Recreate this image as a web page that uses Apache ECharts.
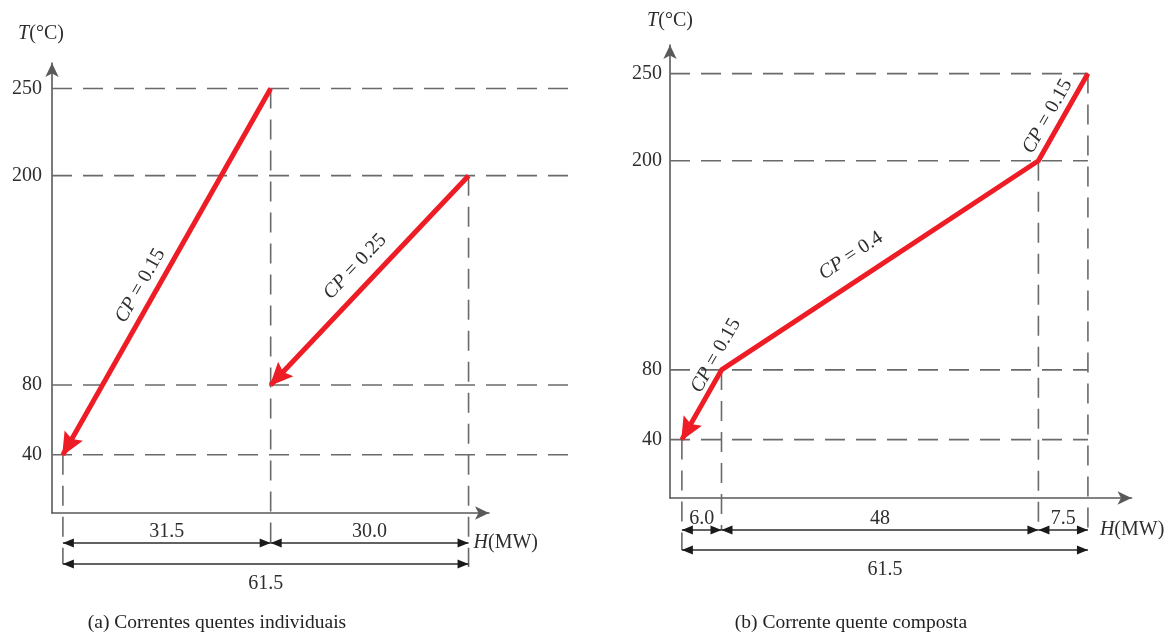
<!DOCTYPE html>
<html><head><meta charset="utf-8">
<script src="https://cdn.jsdelivr.net/npm/echarts@6/dist/echarts.min.js"></script>
<style>html,body{margin:0;padding:0;background:#fff}#c{width:1176px;height:635px}</style>
</head><body><div id="c"></div>
<script>
// ---------------- data ----------------
const yTicks = [40, 80, 200, 250];                 // T (°C) tick labels
// Panel (a): individual hot streams, points [H (MW), T (°C)] from start to end
const stream1 = [[31.5, 250], [0, 40]];
const stream2 = [[61.5, 200], [31.5, 80]];
const streamLabels = ['CP = 0.15', 'CP = 0.25'];
// Panel (b): composite hot stream
const compositeH = [61.5, 54, 6, 0];
const compositeT = [250, 200, 80, 40];
const compositeLabels = ['CP = 0.15', 'CP = 0.4', 'CP = 0.15'];
// Dimension intervals [from H, to H, label]
const dimsA1 = [[0, 31.5, '31.5'], [31.5, 61.5, '30.0']];
const dimsA2 = [[0, 61.5, '61.5']];
const dimsB1 = [[0, 6, '6.0'], [6, 54, '48'], [54, 61.5, '7.5']];
const dimsB2 = [[0, 61.5, '61.5']];
const captions = ['(a) Correntes quentes individuais', '(b) Corrente quente composta'];
const yName = '{i|T}(°C)';
const xName = '{i|H}(MW)';

// ---------------- styling / layout ----------------
const RED = '#ee1c25', GUIDE = '#6a6a6a', INK = '#2e2e2e', AXIS = '#5a5a5a';
const FONT = '"Liberation Serif", "Times New Roman", serif';
const DASH = [20, 11];
const P = [
  {grid: {left: 52, top: 63, width: 437, height: 450}, xMin: -1.65, xMax: 64.6, yMin: 6.6, yMax: 264.6,
   guideEnd: 78.1, row1: 30, row2: 51, hNameDx: 5, nameGap: 19, namePad: [0, 22, 0, 0], labelMargin: 10,
   caption: [217, 623]},
  {grid: {left: 670, top: 45, width: 461.5, height: 453}, xMin: -1.8, xMax: 68.1, yMin: 6.5, yMax: 266.4,
   guideEnd: 61.5, row1: 32, row2: 52, hNameDx: 12, nameGap: 14, namePad: [0, 0, 0, 0], labelMargin: 8,
   caption: [851, 623]}
];
// label placement along segment: [t from lower end, perpendicular offset px]
const labelPosA = [[0.44, 16], [0.5, 20]];
const labelPosB = [[0.43, 14], [0.45, 24], [1.12, 12]];
// vertical guide drop (px below axis)
const dropA = [51, 30, 54];
const dropB = [52, 32, 32, 38];

const composite = compositeH.map((h, i) => [h, compositeT[i]]);
const rich = {i: {fontStyle: 'italic', fontFamily: FONT, fontSize: 20, color: INK}};

function axesFor(i) {
  const p = P[i];
  return {
    x: {gridIndex: i, type: 'value', min: p.xMin, max: p.xMax,
      axisLine: {show: true, onZero: false, symbol: ['none', 'arrow'], symbolSize: [10, 14],
        lineStyle: {color: AXIS, width: 1.6}},
      axisTick: {show: false}, axisLabel: {show: false}, splitLine: {show: false}},
    y: {gridIndex: i, type: 'value', min: p.yMin, max: p.yMax,
      name: yName, nameLocation: 'end', nameGap: p.nameGap,
      nameTextStyle: {fontFamily: FONT, fontSize: 20, color: INK, padding: p.namePad, rich: rich},
      axisLine: {show: true, onZero: false, symbol: ['none', 'arrow'], symbolSize: [10, 14],
        lineStyle: {color: AXIS, width: 1.6}},
      axisTick: {show: false}, splitLine: {show: false},
      axisLabel: {customValues: yTicks, fontFamily: FONT, fontSize: 20, color: INK, margin: p.labelMargin}}
  };
}
const ax0 = axesFor(0), ax1 = axesFor(1);

const series = [];
function redLine(i, pts) {
  series.push({type: 'line', xAxisIndex: i, yAxisIndex: i, data: pts, symbol: 'none', silent: true, z: 5,
    lineStyle: {color: RED, width: 5, join: 'round'}});
}
redLine(0, stream1);
redLine(0, stream2);
redLine(1, composite);

const chart = echarts.init(document.getElementById('c'));
chart.setOption({
  animation: false,
  backgroundColor: '#fff',
  grid: [P[0].grid, P[1].grid],
  xAxis: [ax0.x, ax1.x],
  yAxis: [ax0.y, ax1.y],
  series: series
});

function px(i, h, t) { return chart.convertToPixel({gridIndex: i}, [h, t]); }
const g = [];
const axisY = i => px(i, 0, P[i].yMin)[1];

function dashed(x1, y1, x2, y2) {
  g.push({type: 'line', silent: true, z: 2, shape: {x1: x1, y1: y1, x2: x2, y2: y2},
    style: {stroke: GUIDE, lineWidth: 1.6, lineDash: DASH}});
}
function arrowHead(i, from, to) {
  const a = px(i, from[0], from[1]), b = px(i, to[0], to[1]);
  const dx = b[0] - a[0], dy = b[1] - a[1], len = Math.hypot(dx, dy);
  const ux = dx / len, uy = dy / len, nx = -uy, ny = ux;
  const L = 22, W = 10.5, N = 18;
  const bx = b[0] - ux * L, by = b[1] - uy * L;
  g.push({type: 'polygon', silent: true, z: 8, shape: {points: [
    [b[0] + ux * 1.5, b[1] + uy * 1.5], [bx + nx * W, by + ny * W],
    [b[0] - ux * N, b[1] - uy * N], [bx - nx * W, by - ny * W]]},
    style: {fill: RED}});
}
function dim(i, d, row, above) {
  const y = axisY(i) + row;
  const x1 = px(i, d[0], 0)[0], x2 = px(i, d[1], 0)[0];
  const L = 11, W = 4.5;
  g.push({type: 'line', silent: true, z: 3, shape: {x1: x1, y1: y, x2: x2, y2: y},
    style: {stroke: INK, lineWidth: 1.5}});
  g.push({type: 'polygon', silent: true, z: 3, shape: {points: [[x1, y], [x1 + L, y - W], [x1 + L, y + W]]},
    style: {fill: '#1a1a1a'}});
  g.push({type: 'polygon', silent: true, z: 3, shape: {points: [[x2, y], [x2 - L, y - W], [x2 - L, y + W]]},
    style: {fill: '#1a1a1a'}});
  g.push({type: 'text', silent: true, z: 3, x: (x1 + x2) / 2, y: above ? y - 11.5 : y + 10,
    style: {text: d[2], font: '20px ' + FONT, fill: INK, align: 'center',
      verticalAlign: above ? 'middle' : 'top'}});
}
function cpLabel(i, lower, upper, pos, text) {
  const a = px(i, lower[0], lower[1]), b = px(i, upper[0], upper[1]);
  const dx = b[0] - a[0], dy = b[1] - a[1], len = Math.hypot(dx, dy);
  const nx = dy / len, ny = -dx / len;
  const cx = a[0] + dx * pos[0] + nx * pos[1], cy = a[1] + dy * pos[0] + ny * pos[1];
  g.push({type: 'text', silent: true, z: 7, x: cx, y: cy, rotation: Math.atan2(-dy, dx),
    style: {text: text.replace('CP', '{i|CP}'), font: '20px ' + FONT, fill: INK, align: 'center',
      verticalAlign: 'middle', rich: {i: {fontStyle: 'italic', fontSize: 20, fontFamily: FONT, fill: INK}}}});
}

// horizontal dashed guides
[0, 1].forEach(i => {
  yTicks.forEach(t => {
    const a = px(i, P[i].xMin, t), b = px(i, P[i].guideEnd, t);
    dashed(a[0], a[1], b[0], b[1]);
  });
});
// panel (a) vertical guides
[stream1[1], stream1[0], stream2[0]].forEach((p, k) => {
  const q = px(0, p[0], p[1]);
  dashed(q[0], q[1], q[0], axisY(0) + dropA[k]);
});
// panel (b) vertical guides
composite.slice().reverse().forEach((p, k) => {
  const q = px(1, p[0], p[1]);
  dashed(q[0], q[1], q[0], axisY(1) + dropB[k]);
});
dimsA1.forEach(d => dim(0, d, P[0].row1, true));
dimsA2.forEach(d => dim(0, d, P[0].row2, false));
dimsB1.forEach(d => dim(1, d, P[1].row1, true));
dimsB2.forEach(d => dim(1, d, P[1].row2, false));

// arrow heads at stream ends
arrowHead(0, stream1[0], stream1[1]);
arrowHead(0, stream2[0], stream2[1]);
arrowHead(1, composite[composite.length - 2], composite[composite.length - 1]);

cpLabel(0, stream1[1], stream1[0], labelPosA[0], streamLabels[0]);
cpLabel(0, stream2[1], stream2[0], labelPosA[1], streamLabels[1]);
for (let s = 0; s < 3; s++) {
  cpLabel(1, composite[s + 1], composite[s], labelPosB[s], compositeLabels[s]);
}

// H(MW) axis names and captions
[0, 1].forEach(i => {
  const x = px(i, 61.5, 0)[0] + P[i].hNameDx;
  g.push({type: 'text', silent: true, x: x, y: axisY(i) + P[i].row1,
    style: {text: xName, font: '20px ' + FONT, fill: INK, align: 'left', verticalAlign: 'middle',
      rich: {i: {fontStyle: 'italic', fontSize: 20, fontFamily: FONT, fill: INK}}}});
  g.push({type: 'text', silent: true, x: P[i].caption[0], y: P[i].caption[1],
    style: {text: captions[i], font: '19.5px ' + FONT, fill: '#222', align: 'center', verticalAlign: 'middle'}});
});

chart.setOption({graphic: {elements: g}});
</script>
</body></html>
